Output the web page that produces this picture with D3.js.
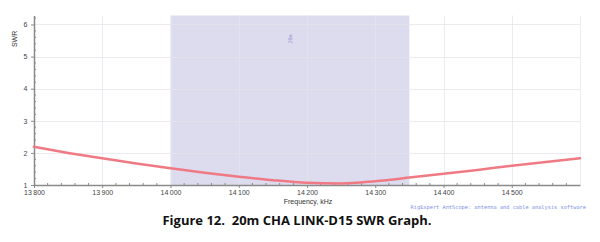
<!DOCTYPE html>
<html>
<head>
<meta charset="utf-8">
<script src="https://cdn.jsdelivr.net/npm/d3@7"></script>
<style>
  body { margin: 0; background: #fff; }
  svg { display: block; }
</style>
</head>
<body>
<svg id="chart" width="600" height="242"></svg>
<script>
// SWR sweep
const freqs = [13800, 13850, 13900, 13950, 14000, 14050, 14100, 14150, 14200,
  14250, 14300, 14350, 14400, 14450, 14500, 14550, 14600];
const swr = [2.19, 2.00, 1.83, 1.67, 1.52, 1.38, 1.26, 1.15, 1.07,
  1.05, 1.12, 1.23, 1.35, 1.47, 1.60, 1.72, 1.83];
const band = [14000, 14350];
const xTicks = [13800, 13900, 14000, 14100, 14200, 14300, 14400, 14500];
const yTicks = [1, 2, 3, 4, 5, 6];

const margin = { top: 15.5, right: 20, bottom: 57, left: 34 };
const width = 600, height = 242;

const svg = d3.select('#chart');

const x = d3.scaleLinear()
  .domain([13800, 14600])
  .range([margin.left, width - margin.right]);

const y = d3.scaleLinear()
  .domain([1, 6.28])
  .range([height - margin.bottom, margin.top]);

const fmt = d3.formatLocale({ thousands: '\u2009', grouping: [3], decimal: '.', currency: ['', ''] }).format(',');

// band shading
svg.append('rect')
  .attr('x', x(band[0]))
  .attr('y', y(6.28))
  .attr('width', x(band[1]) - x(band[0]))
  .attr('height', y(1) - y(6.28))
  .attr('fill', '#dcdcee');

// grid
const grid = svg.append('g').attr('stroke', '#e4e4ea').attr('stroke-width', 1);
grid.selectAll('.vx')
  .data(xTicks.slice(1).concat([14600]))
  .join('line')
  .attr('x1', (d) => Math.round(x(d)) + 0.5)
  .attr('x2', (d) => Math.round(x(d)) + 0.5)
  .attr('y1', y(6.28))
  .attr('y2', y(1))
  .attr('stroke-opacity', 0.7);
grid.selectAll('.hy')
  .data(yTicks.slice(1))
  .join('line')
  .attr('x1', x(13800))
  .attr('x2', x(14600))
  .attr('y1', (d) => Math.round(y(d)) + 0.5)
  .attr('y2', (d) => Math.round(y(d)) + 0.5)
  .attr('stroke-opacity', 0.7);

// little band marker text
svg.append('text')
  .attr('transform', `translate(${x(14178)},${y(5.55)}) rotate(-90)`)
  .attr('text-anchor', 'middle')
  .attr('font-family', 'DejaVu Sans Mono')
  .attr('font-size', 5)
  .attr('fill', '#9a9ad4')
  .text('20m');

// axes
const axisColor = '#8a8a8a';
const xAxis = svg.append('g')
  .attr('transform', `translate(0,${y(1)})`)
  .call(d3.axisBottom(x).tickValues(xTicks).tickFormat(fmt).tickSize(3).tickSizeOuter(0));
xAxis.append('g')
  .selectAll('line')
  .data(d3.range(13820, 14600, 20).filter((d) => d % 100 !== 0))
  .join('line')
  .attr('x1', (d) => x(d))
  .attr('x2', (d) => x(d))
  .attr('y1', 0)
  .attr('y2', -2)
  .attr('stroke', axisColor);

const yAxis = svg.append('g')
  .attr('transform', `translate(${x(13800)},0)`)
  .call(d3.axisLeft(y).tickValues(yTicks).tickFormat(d3.format('d')).tickSize(3).tickSizeOuter(0));
yAxis.append('g')
  .selectAll('line')
  .data(d3.range(1.2, 6.25, 0.2).filter((d) => Math.abs(d - Math.round(d)) > 0.01))
  .join('line')
  .attr('x1', 0)
  .attr('x2', 2)
  .attr('y1', (d) => y(d))
  .attr('y2', (d) => y(d))
  .attr('stroke', axisColor);

[xAxis, yAxis].forEach((g) => {
  g.select('.domain').attr('stroke', axisColor).attr('stroke-width', 1.5);
  g.selectAll('.tick line').attr('stroke', axisColor);
  g.selectAll('.tick text')
    .attr('font-family', 'Liberation Sans, Arial, sans-serif')
    .attr('font-size', 7)
    .attr('fill', '#444');
});
xAxis.selectAll('.tick text').attr('dy', '0.5em');
yAxis.selectAll('.tick text').attr('dx', '-0.1em');

// curve
const line = d3.line()
  .x((d, i) => x(freqs[i]))
  .y((d) => y(d))
  .curve(d3.curveMonotoneX);

svg.append('path')
  .datum(swr)
  .attr('d', line)
  .attr('fill', 'none')
  .attr('stroke', '#f07a84')
  .attr('stroke-width', 2.5)
  .attr('stroke-linecap', 'round');

// axis labels
svg.append('text')
  .attr('transform', `translate(17,${y(5.55)}) rotate(-90)`)
  .attr('text-anchor', 'middle')
  .attr('font-family', 'Liberation Sans, Arial, sans-serif')
  .attr('font-size', 7)
  .attr('fill', '#333')
  .text('SWR');

svg.append('text')
  .attr('x', 308)
  .attr('y', 204)
  .attr('text-anchor', 'middle')
  .attr('font-family', 'Liberation Sans, Arial, sans-serif')
  .attr('font-size', 7)
  .attr('fill', '#333')
  .text('Frequency, kHz');

svg.append('text')
  .attr('x', 586)
  .attr('y', 208.5)
  .attr('text-anchor', 'end')
  .attr('font-family', 'DejaVu Sans Mono, monospace')
  .attr('font-size', 5.3)
  .attr('fill', '#7c92e8')
  .text('RigExpert AntScope: antenna and cable analysis software');

// caption
svg.append('text')
  .attr('x', 297)
  .attr('y', 224.5)
  .attr('text-anchor', 'middle')
  .attr('font-family', 'Open Sans, Liberation Sans, sans-serif')
  .attr('font-weight', 'bold')
  .attr('font-size', 13)
  .attr('fill', '#111')
  .style('white-space', 'pre')
  .text('Figure 12.  20m CHA LINK-D15 SWR Graph.');
</script>
</body>
</html>
